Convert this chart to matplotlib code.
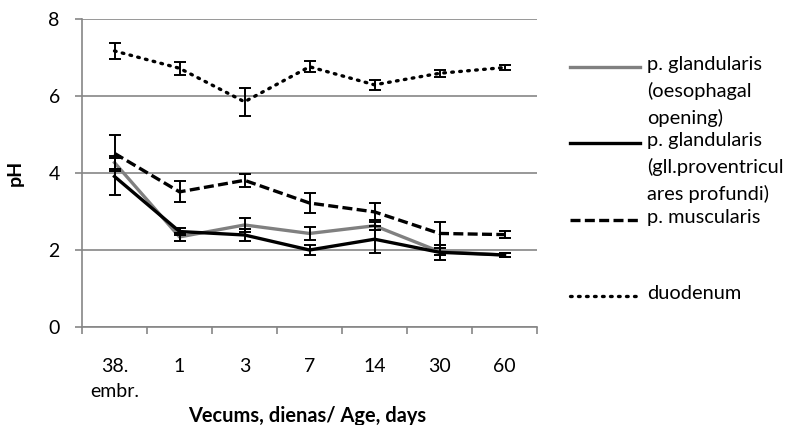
import matplotlib.pyplot as plt
from matplotlib.lines import Line2D
import numpy as np

plt.rcParams['font.family'] = ['Lato', 'DejaVu Sans']

# 数据
age_labels = ['38.\nembr.', '1', '3', '7', '14', '30', '60']
gland_oes = [4.27, 2.34, 2.65, 2.43, 2.63, 1.96, 1.87]
gland_oes_err = [0.17, 0.11, 0.19, 0.18, 0.10, 0.08, 0.05]
gland_prof = [3.91, 2.48, 2.39, 2.00, 2.28, 1.94, 1.87]
gland_prof_err = [0.48, 0.08, 0.16, 0.12, 0.35, 0.20, 0.04]
muscularis = [4.51, 3.51, 3.81, 3.22, 2.99, 2.43, 2.40]
muscularis_err = [0.47, 0.27, 0.17, 0.25, 0.22, 0.29, 0.09]
duodenum = [7.17, 6.72, 5.85, 6.76, 6.29, 6.59, 6.74]
duodenum_err = [0.20, 0.17, 0.36, 0.14, 0.13, 0.09, 0.06]

legend_labels = ['p. glandularis\n(oesophagal\nopening)',
                 'p. glandularis\n(gll.proventricul\nares profundi)',
                 'p. muscularis',
                 'duodenum']

W, H = 786, 425
fig = plt.figure(figsize=(W / 100, H / 100), dpi=100)
ax = fig.add_axes([82 / W, 1 - 327 / H, (537 - 82) / W, (327 - 19) / H])

x = np.arange(len(age_labels))
grid_c = '#868686'
lw = 2.4
fs = 14
fs_big = 14.4

# 系列样式
styles = [
    (gland_oes, gland_oes_err, dict(color='#808080', linestyle='-')),
    (gland_prof, gland_prof_err, dict(color='black', linestyle='-')),
    (muscularis, muscularis_err, dict(color='black', linestyle=(0, (3.0, 1.3)))),
    (duodenum, duodenum_err, dict(color='black', linestyle=(0, (0.5, 1.9)), dash_capstyle='round')),
]

for vals, errs, st in styles:
    ax.plot(x, vals, linewidth=lw, zorder=3, **st)
    ax.errorbar(x, vals, yerr=errs, fmt='none', ecolor='black', elinewidth=1.4,
                capsize=4.3, capthick=1.4, zorder=4)

ax.set_ylim(0, 8)
ax.set_yticks([0, 2, 4, 6, 8])
ax.set_xlim(-0.5, len(age_labels) - 0.5)
ax.set_xticks(x)
ax.set_xticklabels(age_labels, fontsize=fs, linespacing=1.6)
ax.set_xticks(np.arange(-0.5, len(age_labels)), minor=True)
ax.tick_params(axis='x', which='major', length=0, pad=22)
ax.tick_params(axis='x', which='minor', length=5, color=grid_c, width=1.2)
ax.tick_params(axis='y', length=5, color=grid_c, width=1.2, labelsize=fs, pad=11)

ax.grid(axis='y', color=grid_c, linewidth=1.2, zorder=0)
ax.set_axisbelow(True)
for s in ['top', 'right']:
    ax.spines[s].set_visible(False)
for s in ['left', 'bottom']:
    ax.spines[s].set_color(grid_c)
    ax.spines[s].set_linewidth(1.2)

ax.set_ylabel('pH', fontsize=fs, fontweight='bold', labelpad=18)
ax.set_xlabel('Vecums, dienas/ Age, days', fontsize=fs_big, fontweight='bold')
ax.xaxis.set_label_coords(0.495, (327 - 406) / 308)

# 图例（手动）
leg_y = [67, 143, 220, 296]
for (vals, errs, st), lab, yp in zip(styles, legend_labels, leg_y):
    fy = 1 - yp / H
    fig.add_artist(Line2D([570 / W, 640 / W], [fy, fy], transform=fig.transFigure,
                          linewidth=lw, **st))
    fig.text(647 / W, fy + 11 / H, lab, fontsize=fs_big, va='top', ha='left', linespacing=1.6)

fig.savefig('out.png', dpi=100)
